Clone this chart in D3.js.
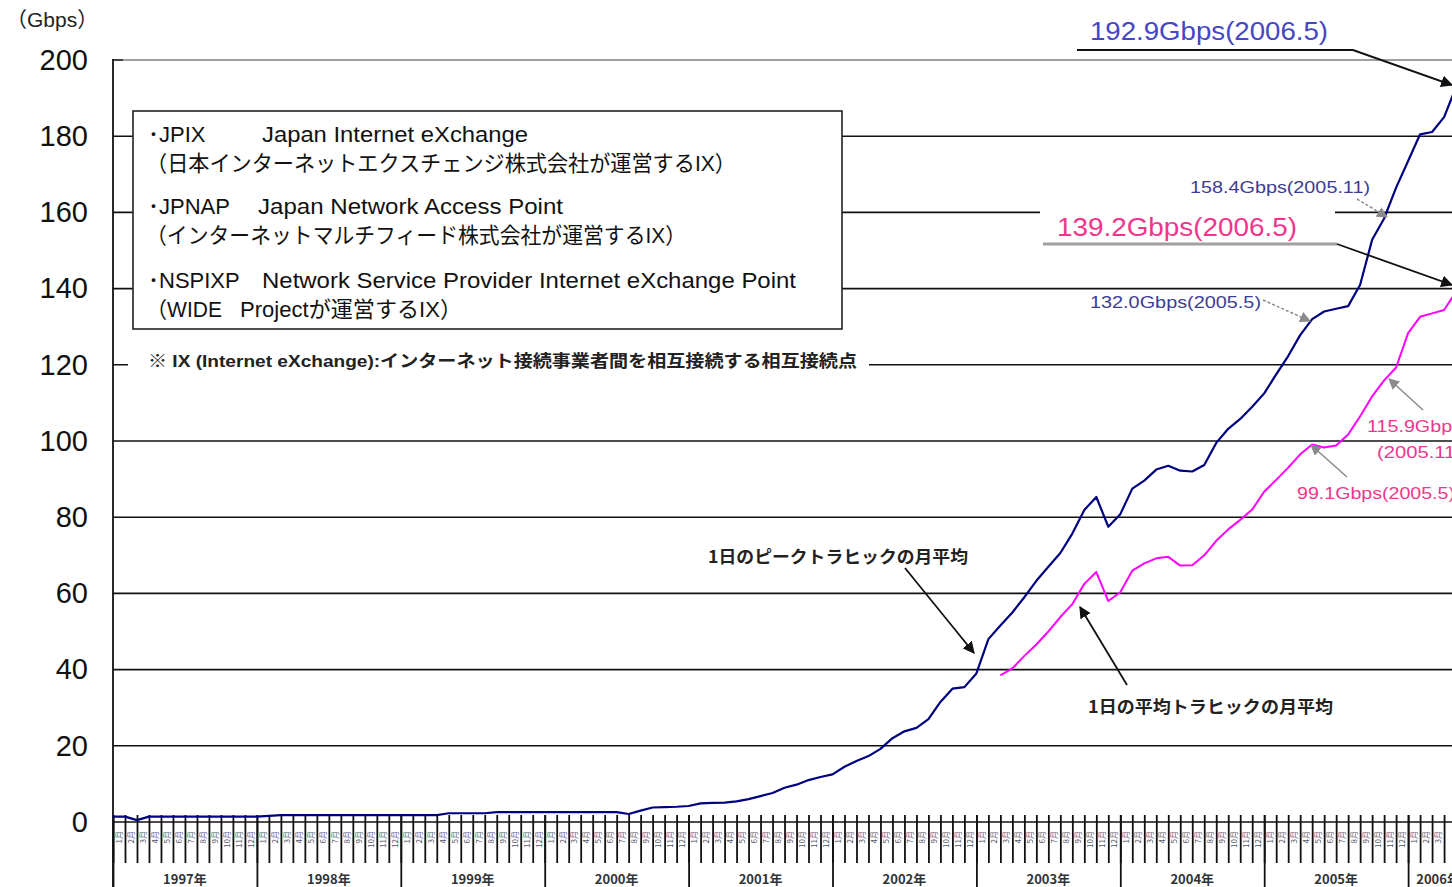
<!DOCTYPE html>
<html>
<head>
<meta charset="utf-8">
<script src="https://cdn.jsdelivr.net/npm/d3@7"></script>
<style>
  body { margin: 0; background: #fff; }
  svg { display: block; }
</style>
</head>
<body>
<svg id="chart"></svg>
<script>
// Monthly values (Gbps), Jan 1997 .. May 2006
const peakTraffic = [
  1.4, 1.4, 0.5, 1.4, 1.4, 1.4, 1.4, 1.4, 1.4, 1.4, 1.4, 1.4,           // 1997
  1.4, 1.6, 1.8, 1.8, 1.8, 1.8, 1.8, 1.8, 1.8, 1.8, 1.8, 1.8,           // 1998
  1.8, 1.8, 1.8, 1.8, 2.3, 2.3, 2.3, 2.3, 2.6, 2.6, 2.6, 2.6,           // 1999
  2.6, 2.6, 2.6, 2.6, 2.6, 2.6, 2.6, 2.1, 3.0, 3.8, 3.9, 4.0,           // 2000
  4.2, 4.9, 5.0, 5.1, 5.4, 6.0, 6.8, 7.6, 9.0, 9.8, 11.0, 11.8,         // 2001
  12.5, 14.5, 16.0, 17.3, 19.2, 22.0, 23.8, 24.7, 27.0, 31.5, 35.0, 35.4, // 2002
  39.0, 48.0, 51.6, 55.0, 59.0, 63.3, 67.0, 70.6, 75.7, 81.9, 85.3, 77.5, // 2003
  80.8, 87.5, 89.6, 92.5, 93.5, 92.2, 92.0, 93.7, 99.5, 103.2, 105.8, 109.0, // 2004
  112.5, 117.5, 122.3, 127.8, 132.0, 134.0, 134.7, 135.4, 141.0, 152.8, 158.4, 166.5, // 2005
  173.5, 180.5, 181.1, 185.0, 192.9                                      // 2006
];

// average traffic starts Mar 2003
const averageStart = 74;
const averageTraffic = [
  38.5, 40.3, 43.6, 46.6, 50.0, 53.8, 57.2, 62.5, 65.6, 58.0,           // 2003
  60.3, 66.0, 67.9, 69.2, 69.6, 67.3, 67.4, 70.0, 73.8, 76.8, 79.3, 82.0, // 2004
  86.7, 89.8, 93.0, 96.5, 99.1, 98.3, 98.8, 101.7, 106.5, 111.7, 115.9, 119.3, // 2005
  128.3, 132.6, 133.5, 134.4, 139.2                                      // 2006
];

const years = ['1997年', '1998年', '1999年', '2000年', '2001年', '2002年', '2003年', '2004年', '2005年', '2006年'];
const monthNames = ['1月', '2月', '3月', '4月', '5月', '6月', '7月', '8月', '9月', '10月', '11月', '12月'];
const yTicks = [0, 20, 40, 60, 80, 100, 120, 140, 160, 180, 200];

const legendLines = [
  ['･JPIX', 'Japan Internet eXchange'],
  ['（日本インターネットエクスチェンジ株式会社が運営するIX）'],
  ['･JPNAP', 'Japan Network Access Point'],
  ['（インターネットマルチフィード株式会社が運営するIX）'],
  ['･NSPIXP', 'Network Service Provider Internet eXchange Point'],
  ['（WIDE', 'Projectが運営するIX）']
];
const noteText = '※  IX (Internet eXchange):インターネット接続事業者間を相互接続する相互接続点';

const width = 1452;
const height = 887;
const latin = '"Liberation Sans", Arial, "Noto Sans CJK JP", sans-serif';
const navy = '#000080';
const magenta = '#ff00ff';
const nMonths = peakTraffic.length; // 113 -> axis ends after May 2006

const svg = d3.select('#chart')
  .attr('width', width)
  .attr('height', height)
  .attr('viewBox', [0, 0, width, height])
  .style('font-family', latin);

// month index -> x (month 0 = Jan 1997), 2006 runs past the right edge
const x = d3.scaleLinear().domain([0, 120]).range([113, 1552]);
const y = d3.scaleLinear().domain([0, 200]).range([822, 60]);

const defs = svg.append('defs');
function marker(id, color, size) {
  defs.append('marker')
    .attr('id', id)
    .attr('viewBox', '0 0 10 10')
    .attr('refX', 9).attr('refY', 5)
    .attr('markerWidth', size).attr('markerHeight', size)
    .attr('markerUnits', 'userSpaceOnUse')
    .attr('orient', 'auto')
    .append('path')
    .attr('d', 'M0,0L10,5L0,10z')
    .attr('fill', color);
}
marker('arrowBlack', '#111', 12);
marker('arrowGrey', '#8a8a8a', 11);

// gridlines
svg.append('g')
  .selectAll('line')
  .data(yTicks)
  .join('line')
  .attr('x1', d => d === 200 ? 123 : 113)
  .attr('x2', width)
  .attr('y1', d => y(d))
  .attr('y2', d => y(d))
  .attr('stroke', d => d === 200 ? '#a0a0a0' : '#111')
  .attr('stroke-width', d => d === 200 ? 2 : 1.6);

// y axis labels
svg.append('g')
  .attr('transform', `translate(113,0)`)
  .call(d3.axisLeft(y).tickValues(yTicks).tickSize(0).tickPadding(25))
  .call(g => g.select('.domain').remove())
  .call(g => g.selectAll('text')
    .attr('font-family', latin)
    .attr('font-size', 29)
    .attr('fill', '#111'));

svg.append('line')
  .attr('x1', 113).attr('x2', 123)
  .attr('y1', y(200)).attr('y2', y(200))
  .attr('stroke', '#111').attr('stroke-width', 1.6);

svg.append('line')
  .attr('x1', 113).attr('x2', 113)
  .attr('y1', y(200) - 1).attr('y2', height)
  .attr('stroke', '#111').attr('stroke-width', 1.8);

svg.append('text')
  .attr('x', 6).attr('y', 27)
  .attr('font-size', 21)
  .attr('fill', '#222')
  .text('（Gbps）');

// month ticks and year separators
svg.append('g')
  .attr('transform', 'translate(0,815)')
  .call(d3.axisBottom(x).tickValues(d3.range(0, nMonths + 1)).tickSize(48).tickFormat(''))
  .call(g => g.select('.domain').remove())
  .call(g => g.selectAll('line').attr('stroke', '#111').attr('stroke-width', 1.8));

svg.append('g')
  .attr('transform', 'translate(0,815)')
  .call(d3.axisBottom(x).tickValues(d3.range(0, nMonths, 12).concat([nMonths])).tickSize(72).tickFormat(''))
  .call(g => g.select('.domain').remove())
  .call(g => g.selectAll('line').attr('stroke', '#111').attr('stroke-width', 1.8));

// tiny rotated month labels
svg.append('g')
  .selectAll('text')
  .data(d3.range(0, nMonths).filter(m => x(m + 0.5) + 5 < width))
  .join('text')
  .attr('transform', d => `translate(${x(d + 0.5)},831) rotate(-90)`)
  .attr('text-anchor', 'end')
  .attr('dy', '0.35em')
  .attr('font-size', 8)
  .attr('font-family', '"Noto Sans CJK JP", sans-serif')
  .attr('fill', '#556')
  .text(d => monthNames[d % 12]);

// year labels centered on the months each year covers
svg.append('g')
  .selectAll('text')
  .data(years)
  .join('text')
  .attr('x', (d, i) => x((i * 12 + Math.min(i * 12 + 12, nMonths)) / 2))
  .attr('y', 884)
  .attr('text-anchor', 'middle')
  .attr('font-size', 13)
  .attr('font-weight', 'bold')
  .attr('font-family', '"Noto Sans CJK JP", sans-serif')
  .attr('fill', '#333')
  .text(d => d);

// legend box
svg.append('rect')
  .attr('x', 133).attr('y', 111)
  .attr('width', 709).attr('height', 218)
  .attr('fill', '#fff')
  .attr('stroke', '#222').attr('stroke-width', 1.6);

const legendPos = [
  [[148, 142, null], [262, 142, 266]],
  [[146, 171, 590]],
  [[148, 214, null], [258, 214, 305]],
  [[146, 243, 540]],
  [[148, 288, null], [262, 288, 534]],
  [[146, 317, 76], [240, 317, 222]]
];
legendLines.forEach((parts, i) => {
  parts.forEach((t, j) => {
    const [px, py, len] = legendPos[i][j];
    const el = svg.append('text')
      .attr('x', px).attr('y', py)
      .attr('font-size', 22)
      .attr('fill', '#111')
      .text(t);
    if (len) el.attr('textLength', len).attr('lengthAdjust', 'spacingAndGlyphs');
  });
});

// note with white background over the 120 gridline
svg.append('rect')
  .attr('x', 128).attr('y', 350)
  .attr('width', 741).attr('height', 26)
  .attr('fill', '#fff');
svg.append('text')
  .attr('x', 148).attr('y', 367)
  .attr('font-size', 17)
  .attr('font-weight', 'bold')
  .attr('fill', '#222')
  .attr('textLength', 709)
  .attr('lengthAdjust', 'spacingAndGlyphs')
  .text(noteText);

// white area behind the 139.2 label
svg.append('rect')
  .attr('x', 1040).attr('y', 200)
  .attr('width', 295).attr('height', 42)
  .attr('fill', '#fff');

// series
const peakLine = d3.line()
  .x((d, i) => x(i))
  .y(d => y(d));
const averageLine = d3.line()
  .x((d, i) => x(averageStart + i))
  .y(d => y(d));

svg.append('path')
  .datum(peakTraffic)
  .attr('d', peakLine)
  .attr('fill', 'none')
  .attr('stroke', navy)
  .attr('stroke-width', 2.2)
  .attr('stroke-linejoin', 'round');

svg.append('path')
  .datum(averageTraffic)
  .attr('d', averageLine)
  .attr('fill', 'none')
  .attr('stroke', magenta)
  .attr('stroke-width', 2)
  .attr('stroke-linejoin', 'round');

// annotations
function label(t, px, py, size, color, opts = {}) {
  const el = svg.append('text')
    .attr('x', px).attr('y', py)
    .attr('font-size', size)
    .attr('fill', color)
    .text(t);
  if (opts.len) el.attr('textLength', opts.len).attr('lengthAdjust', 'spacingAndGlyphs');
  if (opts.bold) el.attr('font-weight', 'bold');
  if (opts.family) el.attr('font-family', opts.family);
  return el;
}
function arrow(pts, color, w, id, dash) {
  svg.append('path')
    .attr('d', d3.line()(pts))
    .attr('fill', 'none')
    .attr('stroke', color)
    .attr('stroke-width', w)
    .attr('stroke-dasharray', dash || null)
    .attr('marker-end', `url(#${id})`);
}

label('192.9Gbps(2006.5)', 1090, 40, 26, '#4646c4', { len: 238 });
arrow([[1077, 50], [1353, 50], [1452, 85]], '#111', 2, 'arrowBlack');

label('158.4Gbps(2005.11)', 1190, 193, 17, '#3c3c94', { len: 180 });
arrow([[1357, 199], [1387, 217]], '#8a8a8a', 1.5, 'arrowGrey', '3,2');

label('139.2Gbps(2006.5)', 1057, 236, 26, '#f0368c', { len: 240 });
svg.append('line')
  .attr('x1', 1043).attr('x2', 1337)
  .attr('y1', 244).attr('y2', 244)
  .attr('stroke', '#a0a0a0').attr('stroke-width', 3);
arrow([[1337, 244], [1452, 285]], '#111', 1.8, 'arrowBlack');

label('132.0Gbps(2005.5)', 1090, 308, 17, '#3c3c94', { len: 171 });
arrow([[1263, 300], [1310, 321]], '#8a8a8a', 1.5, 'arrowGrey', '3,2');

label('115.9Gbps', 1367, 432, 17, '#f0368c', { len: 95 });
label('(2005.11)', 1377, 458, 17, '#f0368c', { len: 85 });
arrow([[1423, 410], [1389, 379]], '#8a8a8a', 1.5, 'arrowGrey');

label('99.1Gbps(2005.5)', 1297, 499, 17, '#f0368c', { len: 158 });
arrow([[1347, 477], [1311, 445]], '#8a8a8a', 1.5, 'arrowGrey');

label('1日のピークトラヒックの月平均', 708, 563, 17, '#222',
  { len: 260, bold: true, family: '"Noto Sans CJK JP", sans-serif' });
arrow([[905, 568], [974, 653]], '#111', 1.8, 'arrowBlack');

label('1日の平均トラヒックの月平均', 1088, 713, 17, '#222',
  { len: 245, bold: true, family: '"Noto Sans CJK JP", sans-serif' });
arrow([[1127, 685], [1080, 607]], '#111', 1.8, 'arrowBlack');
</script>
</body>
</html>
